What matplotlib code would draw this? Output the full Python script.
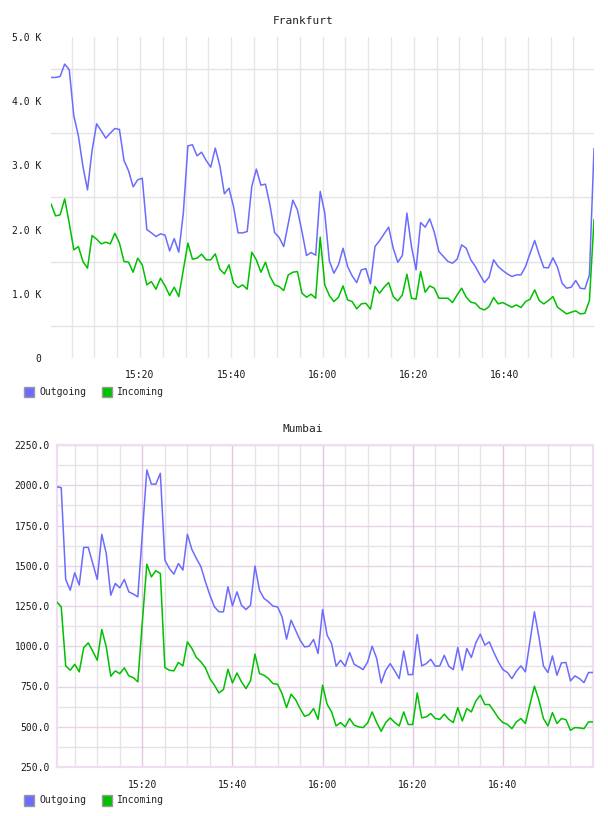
import numpy as np
import matplotlib
matplotlib.use("Agg")
import matplotlib.pyplot as plt
from matplotlib.patches import Rectangle
from matplotlib.ticker import FuncFormatter, FixedLocator

# ---------------- data ----------------
series_names = ["Outgoing", "Incoming"]
chart_titles = ["Frankfurt", "Mumbai"]

# minutes after 15:00 of first sample, samples are one minute apart
frankfurt_start_min = 0.5
mumbai_start_min = 1.0

frankfurt_out = [4370, 4370, 4386, 4578, 4490, 3773, 3461, 2983, 2619, 3232,
                 3648, 3539, 3425, 3503, 3575, 3560, 3077, 2916, 2666, 2775,
                 2801, 2001, 1949, 1892, 1934, 1913, 1669, 1861, 1648, 2256,
                 3305, 3321, 3149, 3206, 3077, 2973, 3269, 2994, 2557, 2645,
                 2360, 1949, 1949, 1970, 2671, 2942, 2692, 2708, 2375, 1954,
                 1877, 1736, 2095, 2458, 2308, 1970, 1596, 1643, 1601, 2594,
                 2256, 1513, 1321, 1451, 1710, 1425, 1279, 1175, 1373, 1393,
                 1155, 1736, 1825, 1934, 2038, 1710, 1492, 1596, 2256, 1736,
                 1373, 2110, 2038, 2167, 1959, 1659, 1581, 1503, 1477, 1539,
                 1762, 1710, 1529, 1425, 1295, 1175, 1258, 1529, 1425, 1362,
                 1310, 1269, 1295, 1295, 1425, 1633, 1830, 1607, 1409, 1404,
                 1560, 1414, 1165, 1087, 1103, 1206, 1087, 1077, 1295, 3258]

frankfurt_in = [2401, 2214, 2230, 2479, 2100, 1684, 1736, 1503, 1399, 1908,
                1851, 1778, 1804, 1778, 1944, 1789, 1503, 1492, 1336, 1555,
                1451, 1139, 1191, 1071, 1243, 1123, 973, 1103, 957, 1373,
                1789, 1539, 1555, 1617, 1529, 1529, 1622, 1383, 1310, 1451,
                1165, 1097, 1139, 1071, 1648, 1529, 1336, 1492, 1269, 1139,
                1113, 1051, 1295, 1336, 1347, 1009, 947, 994, 931, 1882,
                1139, 973, 879, 947, 1123, 905, 879, 765, 843, 853,
                760, 1113, 1009, 1103, 1175, 957, 890, 983, 1305, 931,
                916, 1347, 1025, 1123, 1087, 931, 931, 931, 864, 983,
                1087, 947, 869, 853, 775, 749, 801, 942, 843, 864,
                827, 791, 827, 786, 879, 916, 1061, 895, 843, 895,
                957, 791, 739, 687, 713, 734, 687, 697, 895, 2152]

mumbai_out = [1991, 1985, 1415, 1348, 1456, 1380, 1614, 1614, 1514, 1415,
              1695, 1576, 1317, 1390, 1363, 1415, 1338, 1324, 1307, 1700,
              2095, 2007, 2007, 2074, 1535, 1483, 1448, 1514, 1473, 1695,
              1601, 1545, 1494, 1400, 1317, 1245, 1214, 1214, 1369, 1251,
              1338, 1255, 1228, 1255, 1498, 1348, 1297, 1276, 1249, 1245,
              1183, 1044, 1162, 1100, 1038, 996, 1000, 1042, 955, 1228,
              1069, 1017, 876, 913, 876, 961, 888, 872, 855, 903,
              1000, 924, 772, 851, 892, 847, 799, 971, 824, 824,
              1073, 878, 892, 919, 876, 878, 944, 876, 855, 992,
              851, 986, 930, 1021, 1075, 1007, 1027, 961, 903, 855,
              837, 799, 845, 878, 841, 1027, 1214, 1058, 878, 837,
              940, 820, 897, 899, 785, 816, 799, 774, 837, 837]

mumbai_in = [1276, 1245, 878, 851, 888, 841, 992, 1021, 969, 913,
             1104, 996, 814, 847, 830, 866, 816, 805, 779, 1150,
             1510, 1431, 1469, 1452, 868, 851, 847, 899, 878, 1027,
             986, 930, 903, 866, 799, 758, 710, 731, 857, 772,
             834, 779, 737, 785, 951, 830, 820, 799, 768, 764,
             706, 619, 702, 669, 613, 565, 575, 613, 546, 758,
             640, 592, 505, 526, 499, 551, 510, 499, 495, 524,
             592, 526, 472, 526, 555, 526, 505, 592, 514, 514,
             710, 555, 561, 582, 551, 546, 578, 546, 526, 619,
             536, 613, 592, 660, 696, 638, 638, 598, 555, 526,
             515, 488, 530, 551, 520, 638, 752, 665, 551, 505,
             588, 520, 551, 544, 478, 495, 493, 488, 530, 530]

time_tick_minutes = [20, 40, 60, 80, 100]
frankfurt_yticks = [0, 1000, 2000, 3000, 4000, 5000]
mumbai_yticks = [250, 500, 750, 1000, 1250, 1500, 1750, 2000, 2250]

# ---------------- style ----------------
OUT_COLOR = "#6b6bff"
IN_COLOR = "#00c000"
FONT = "DejaVu Sans Mono"
W, H = 608, 816

plt.rcParams["font.family"] = FONT
fig = plt.figure(figsize=(W / 100, H / 100), dpi=100)


def fmt_time(v, pos=None):
    m = int(round(v))
    return "%d:%02d" % (15 + m // 60, m % 60)


def box(left, top, right, bottom):
    return [left / W, 1 - bottom / H, (right - left) / W, (bottom - top) / H]


# ---------- Frankfurt ----------
t1 = frankfurt_start_min + np.arange(len(frankfurt_out))
ax1 = fig.add_axes(box(51, 37, 594, 358))
ax1.set_xlim(t1[0], t1[-1])
ax1.set_ylim(0, 5000)
for v in np.arange(500, 5000, 1000):
    ax1.axhline(v, color="#e4e4e4", lw=1.0, zorder=0)
for m in range(5, 120, 5):
    ax1.axvline(m, color="#e6e6e6", lw=1.0, zorder=0)
ax1.plot(t1, frankfurt_out, color=OUT_COLOR, lw=1.1, zorder=3)
ax1.plot(t1, frankfurt_in, color=IN_COLOR, lw=1.1, zorder=3)
for s in ax1.spines.values():
    s.set_visible(False)
ax1.xaxis.set_major_locator(FixedLocator(time_tick_minutes))
ax1.xaxis.set_major_formatter(FuncFormatter(fmt_time))
ax1.yaxis.set_major_locator(FixedLocator(frankfurt_yticks))
ax1.yaxis.set_major_formatter(FuncFormatter(
    lambda v, p: "0" if v == 0 else "%.1f K" % (v / 1000)))
ax1.tick_params(axis="both", length=0, labelsize=7, colors="#1a1a1a")
ax1.tick_params(axis="y", pad=7)
ax1.tick_params(axis="x", pad=9)
fig.text(303 / W, 1 - 20.5 / H, chart_titles[0], ha="center", va="center",
         fontsize=8, color="#222222")

# ---------- Mumbai ----------
t2 = mumbai_start_min + np.arange(len(mumbai_out))
ax2 = fig.add_axes(box(56.7, 445, 593, 767))
ax2.set_xlim(t2[0], t2[-1])
ax2.set_ylim(250, 2250)
for v in np.arange(375, 2250, 250):
    ax2.axhline(v, color="#e6e2e6", lw=1.0, zorder=0)
for v in mumbai_yticks:
    ax2.axhline(v, color="#e8d4e8", lw=1.0, zorder=1)
for m in range(5, 120, 5):
    if m % 20 == 0:
        ax2.axvline(m, color="#e0c8e0", lw=1.0, zorder=1)
    else:
        ax2.axvline(m, color="#e6e2e6", lw=1.0, zorder=0)
ax2.plot(t2, mumbai_out, color=OUT_COLOR, lw=1.1, zorder=3)
ax2.plot(t2, mumbai_in, color=IN_COLOR, lw=1.1, zorder=3)
for s in ax2.spines.values():
    s.set_color("#efdeef")
    s.set_linewidth(1.6)
ax2.xaxis.set_major_locator(FixedLocator(time_tick_minutes))
ax2.xaxis.set_major_formatter(FuncFormatter(fmt_time))
ax2.yaxis.set_major_locator(FixedLocator(mumbai_yticks))
ax2.yaxis.set_major_formatter(FuncFormatter(lambda v, p: "%.1f" % v))
ax2.tick_params(axis="both", length=0, labelsize=7, colors="#1a1a1a")
ax2.tick_params(axis="y", pad=5)
ax2.tick_params(axis="x", pad=9)
fig.text(303 / W, 1 - 429 / H, chart_titles[1], ha="center", va="center",
         fontsize=8, color="#222222")


# ---------- legends ----------
def legend(y):
    xs = [24, 102]
    for x, name, col in zip(xs, series_names, [OUT_COLOR, IN_COLOR]):
        fig.add_artist(Rectangle((x / W, 1 - (y + 5.5) / H), 10 / W, 11 / H,
                                 transform=fig.transFigure, facecolor=col,
                                 edgecolor="#9a9a9a", lw=1.0))
        fig.text((x + 15) / W, 1 - y / H, name, ha="left", va="center",
                 fontsize=7, color="#222222")


legend(392)
legend(800)

fig.savefig("out.png", dpi=100)
